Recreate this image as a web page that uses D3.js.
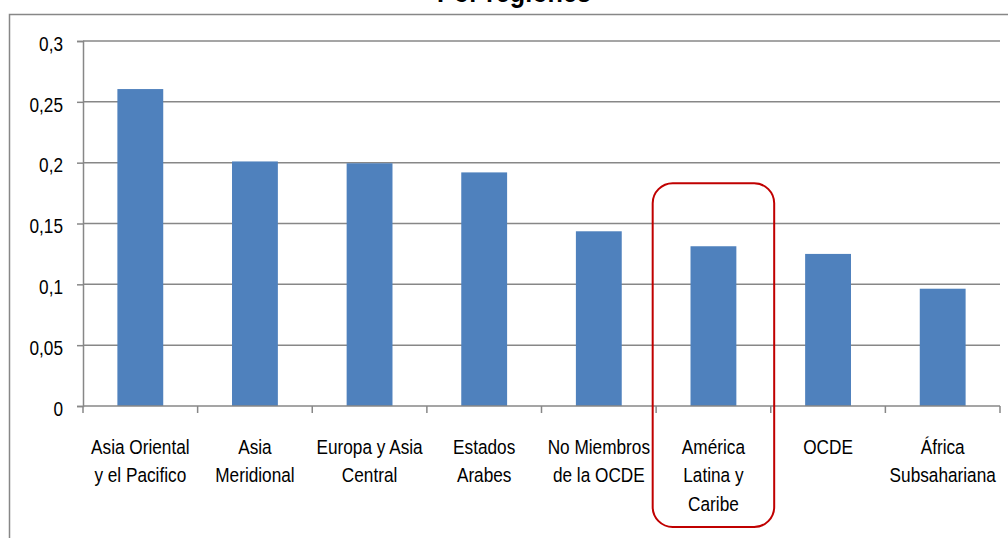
<!DOCTYPE html>
<html>
<head>
<meta charset="utf-8">
<script src="https://cdn.jsdelivr.net/npm/d3@7/dist/d3.min.js"></script>
<style>
  body { margin: 0; background: #fff; }
  svg { display: block; font-family: "Liberation Sans", Arial, sans-serif; }
</style>
</head>
<body>
<svg id="chart" width="1008" height="538"></svg>
<script>
var title = "Por regiones";
var categories = ["Asia Oriental y el Pacifico", "Asia Meridional", "Europa y Asia Central",
                  "Estados Arabes", "No Miembros de la OCDE", "América Latina y Caribe",
                  "OCDE", "África Subsahariana"];
var labelLines = [["Asia Oriental", "y el Pacifico"], ["Asia", "Meridional"], ["Europa y Asia", "Central"],
                  ["Estados", "Arabes"], ["No Miembros", "de la OCDE"], ["América", "Latina y", "Caribe"],
                  ["OCDE"], ["África", "Subsahariana"]];
var values = [0.2605, 0.201, 0.1995, 0.192, 0.1436, 0.1313, 0.125, 0.0964];
var yTicks = [0, 0.05, 0.1, 0.15, 0.2, 0.25, 0.3];
var highlighted = "América Latina y Caribe";

var svg = d3.select("#chart");
var margin = {top: 41, right: 8, bottom: 132, left: 83},
    width = 1008 - margin.left - margin.right,
    height = 538 - margin.top - margin.bottom;
var gridColor = "#878787", barColor = "#4f81bd";
var squeeze = 0.84; // the original font is a narrow one (Calibri)

// outer chart frame (runs past the window on the right and bottom)
svg.append("rect")
  .attr("x", 9.5).attr("y", 14.5)
  .attr("width", 1100).attr("height", 700)
  .attr("fill", "none").attr("stroke", gridColor).attr("stroke-width", 1.5);

// title, only its lower part shows in the original
svg.append("text")
  .attr("transform", "translate(514,2) scale(" + squeeze + ",1)")
  .attr("text-anchor", "middle")
  .attr("font-weight", "bold").attr("font-size", 30)
  .text(title);

var x = d3.scaleBand().domain(categories).range([0, width]).paddingInner(0.6).paddingOuter(0.3);
var y = d3.scaleLinear().domain([0, 0.3]).range([height, 0]);

var g = svg.append("g").attr("transform", "translate(" + margin.left + "," + margin.top + ")");

// gridlines
g.selectAll("line.grid").data(yTicks.slice(1)).enter().append("line")
  .attr("class", "grid")
  .attr("x1", 0).attr("x2", width)
  .attr("y1", d => y(d)).attr("y2", d => y(d))
  .attr("stroke", gridColor).attr("stroke-width", 1.5);

// y axis
var yAxis = g.append("g").call(d3.axisLeft(y).tickValues(yTicks).tickSize(6).tickPadding(14)
  .tickFormat(d => String(d).replace(".", ",")));
yAxis.select(".domain").attr("stroke", gridColor).attr("stroke-width", 1.5);
yAxis.selectAll(".tick line").attr("stroke", gridColor).attr("stroke-width", 1.5);
yAxis.selectAll(".tick text")
  .attr("font-size", 20.5).attr("fill", "#000").attr("font-family", null)
  .attr("x", -20 / squeeze).attr("dy", "0.45em")
  .attr("transform", "scale(" + squeeze + ",1)");

// bars
g.selectAll("rect.bar").data(values).enter().append("rect")
  .attr("class", "bar")
  .attr("x", (d, i) => x(categories[i]))
  .attr("y", d => y(d))
  .attr("width", x.bandwidth())
  .attr("height", d => height - y(d))
  .attr("fill", barColor);

// x axis with ticks at category boundaries
var step = x.step();
var xa = g.append("g").attr("transform", "translate(0," + height + ")");
xa.append("line").attr("x1", 0).attr("x2", width).attr("stroke", gridColor).attr("stroke-width", 1.5);
xa.selectAll("line.tick").data(d3.range(categories.length + 1)).enter().append("line")
  .attr("class", "tick")
  .attr("x1", i => i * step).attr("x2", i => i * step)
  .attr("y1", 0).attr("y2", 7)
  .attr("stroke", gridColor).attr("stroke-width", 1.5);

var labels = xa.selectAll("text.lbl").data(categories).enter().append("text")
  .attr("class", "lbl")
  .attr("text-anchor", "middle")
  .attr("font-size", 20.5)
  .attr("fill", "#000")
  .attr("transform", d => "translate(" + (x(d) + x.bandwidth() / 2) + ",47.5) scale(" + squeeze + ",1)");
labels.each(function(d, i) {
  d3.select(this).selectAll("tspan").data(labelLines[i]).enter().append("tspan")
    .attr("x", 0).attr("y", (t, j) => j * 29)
    .text(t => t);
});

// highlight box around América Latina y Caribe
var cx = x(highlighted) + x.bandwidth() / 2;
var hv = values[categories.indexOf(highlighted)];
g.append("rect")
  .attr("x", cx - step * 0.53)
  .attr("y", y(hv) - 63)
  .attr("width", step * 1.06)
  .attr("height", height + 121 - (y(hv) - 63))
  .attr("rx", 20).attr("ry", 20)
  .attr("fill", "none")
  .attr("stroke", "#c00000").attr("stroke-width", 2);
</script>
</body>
</html>
